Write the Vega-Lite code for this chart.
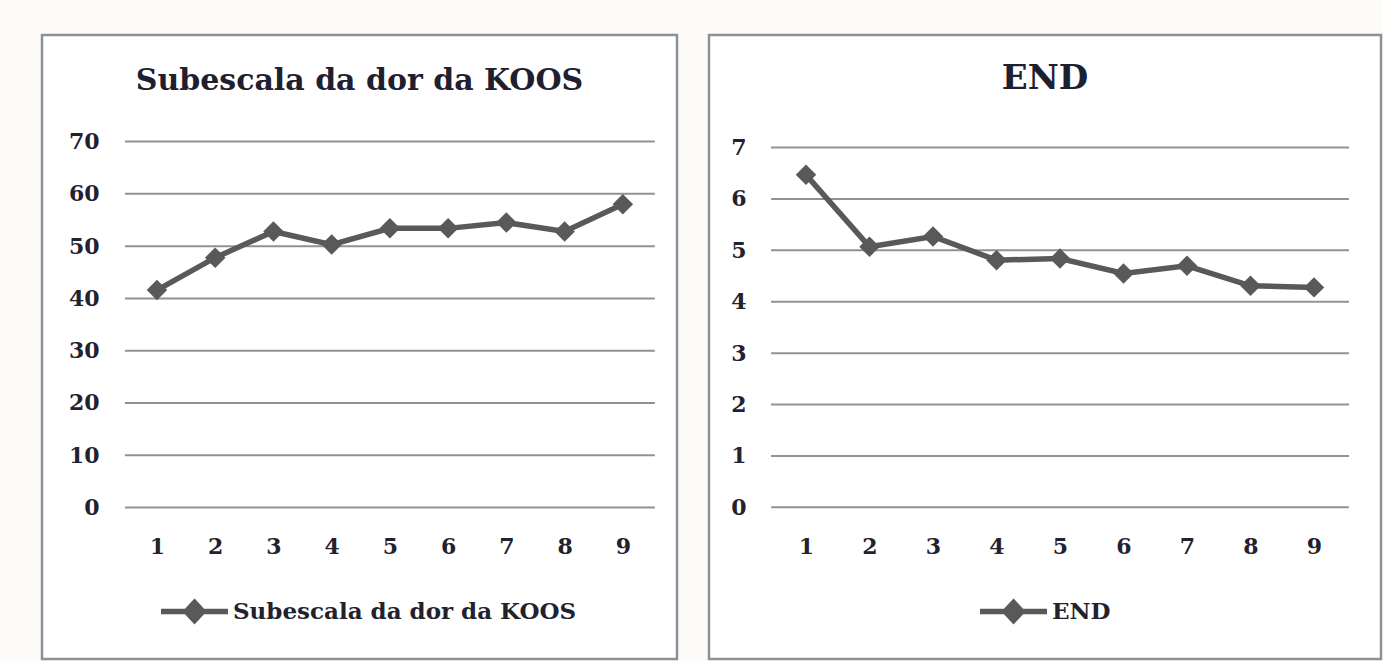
{
  "$schema": "https://vega.github.io/schema/vega-lite/v6.json",
  "background": "#fcfbf8",
  "padding": {"left": 40, "top": 33, "right": 0, "bottom": 0},
  "spacing": 28,
  "resolve": {"scale": {"color": "independent"}, "legend": {"color": "independent"}},
  "config": {
    "view": {"stroke": "#8a9297", "strokeWidth": 2.5, "fill": "#ffffff"},
    "font": "DejaVu Serif",
    "axis": {"labelFont": "DejaVu Serif", "labelFontWeight": "bold", "labelFontSize": 22, "labelColor": "#22222e", "domain": false, "ticks": false, "grid": false, "title": null, "labelPadding": 0},
    "legend": {"orient": "none", "title": null, "padding": 0, "symbolType": "M-1,0L1,0M0,-0.27L0.25,0L0,0.27L-0.25,0Z", "symbolSize": 4489, "symbolStrokeWidth": 5.5, "symbolFillColor": "#595959", "symbolStrokeColor": "#595959", "labelFont": "DejaVu Serif", "labelFontWeight": "bold", "labelFontSize": 23, "labelColor": "#22222e", "labelOffset": 2, "labelLimit": 0}
  },
  "hconcat": [
    {
      "width": 635,
      "height": 624,
      "title": {"text": "Subescala da dor da KOOS", "fontSize": 30, "font": "DejaVu Serif", "fontWeight": "bold", "color": "#1e2030", "offset": -61, "anchor": "middle"},
      "layer": [
        {
          "data": {"values": [{"g": 0}, {"g": 10}, {"g": 20}, {"g": 30}, {"g": 40}, {"g": 50}, {"g": 60}, {"g": 70}]},
          "mark": {"type": "rule", "color": "#8c9397", "strokeWidth": 2},
          "encoding": {
            "y": {"field": "g", "type": "quantitative", "scale": {"domain": [-29, 90.4], "nice": false, "zero": false}, "axis": {"values": [0, 10, 20, 30, 40, 50, 60, 70], "offset": -57}},
            "x": {"datum": 0.45, "type": "quantitative", "scale": {"domain": [-0.974, 9.93], "nice": false, "zero": false}, "axis": {"values": [1, 2, 3, 4, 5, 6, 7, 8, 9], "format": "d", "offset": -123}},
            "x2": {"datum": 9.55}
          }
        },
        {
          "data": {"values": [
            {"t": 1, "v": 41.6, "s": "Subescala da dor da KOOS"},
            {"t": 2, "v": 47.8, "s": "Subescala da dor da KOOS"},
            {"t": 3, "v": 52.8, "s": "Subescala da dor da KOOS"},
            {"t": 4, "v": 50.3, "s": "Subescala da dor da KOOS"},
            {"t": 5, "v": 53.4, "s": "Subescala da dor da KOOS"},
            {"t": 6, "v": 53.4, "s": "Subescala da dor da KOOS"},
            {"t": 7, "v": 54.5, "s": "Subescala da dor da KOOS"},
            {"t": 8, "v": 52.8, "s": "Subescala da dor da KOOS"},
            {"t": 9, "v": 58.0, "s": "Subescala da dor da KOOS"}
          ]},
          "layer": [
            {
              "mark": {"type": "line", "strokeWidth": 5.5},
              "encoding": {
                "x": {"field": "t", "type": "quantitative"},
                "y": {"field": "v", "type": "quantitative"},
                "color": {"field": "s", "type": "nominal", "scale": {"range": ["#595959"]}, "legend": {"legendX": 116, "legendY": 540}}
              }
            },
            {
              "mark": {"type": "point", "shape": "diamond", "filled": true, "size": 420, "color": "#595959", "opacity": 1},
              "encoding": {
                "x": {"field": "t", "type": "quantitative"},
                "y": {"field": "v", "type": "quantitative"}
              }
            }
          ]
        }
      ]
    },
    {
      "width": 672,
      "height": 624,
      "title": {"text": "END", "fontSize": 34, "font": "DejaVu Serif", "fontWeight": "bold", "color": "#1e2030", "offset": -61, "anchor": "middle"},
      "layer": [
        {
          "data": {"values": [{"g": 0}, {"g": 1}, {"g": 2}, {"g": 3}, {"g": 4}, {"g": 5}, {"g": 6}, {"g": 7}]},
          "mark": {"type": "rule", "color": "#8c9397", "strokeWidth": 2},
          "encoding": {
            "y": {"field": "g", "type": "quantitative", "scale": {"domain": [-2.95, 9.19], "nice": false, "zero": false}, "axis": {"values": [0, 1, 2, 3, 4, 5, 6, 7], "offset": -37}},
            "x": {"datum": 0.45, "type": "quantitative", "scale": {"domain": [-0.528, 10.055], "nice": false, "zero": false}, "axis": {"values": [1, 2, 3, 4, 5, 6, 7, 8, 9], "format": "d", "offset": -123}},
            "x2": {"datum": 9.55}
          }
        },
        {
          "data": {"values": [
            {"t": 1, "v": 6.47, "s": "END"},
            {"t": 2, "v": 5.07, "s": "END"},
            {"t": 3, "v": 5.27, "s": "END"},
            {"t": 4, "v": 4.81, "s": "END"},
            {"t": 5, "v": 4.84, "s": "END"},
            {"t": 6, "v": 4.55, "s": "END"},
            {"t": 7, "v": 4.70, "s": "END"},
            {"t": 8, "v": 4.31, "s": "END"},
            {"t": 9, "v": 4.28, "s": "END"}
          ]},
          "layer": [
            {
              "mark": {"type": "line", "strokeWidth": 5.5},
              "encoding": {
                "x": {"field": "t", "type": "quantitative"},
                "y": {"field": "v", "type": "quantitative"},
                "color": {"field": "s", "type": "nominal", "scale": {"range": ["#595959"]}, "legend": {"legendX": 268, "legendY": 540}}
              }
            },
            {
              "mark": {"type": "point", "shape": "diamond", "filled": true, "size": 420, "color": "#595959", "opacity": 1},
              "encoding": {
                "x": {"field": "t", "type": "quantitative"},
                "y": {"field": "v", "type": "quantitative"}
              }
            }
          ]
        }
      ]
    }
  ]
}
